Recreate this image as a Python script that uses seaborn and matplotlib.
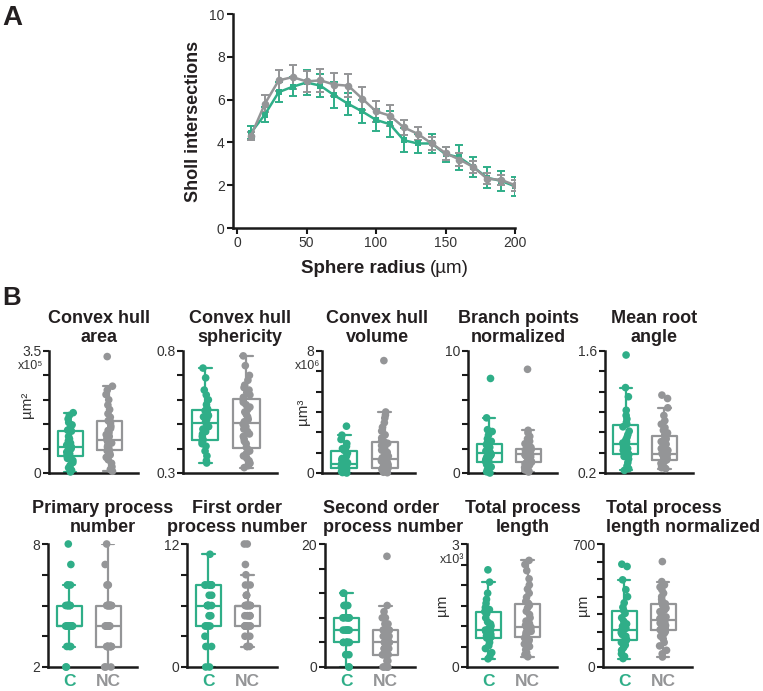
import numpy as np
import pandas as pd
import matplotlib
matplotlib.use("Agg")
import matplotlib.pyplot as plt
import seaborn as sns

# ---------------- data ----------------
GROUPS = ["C", "NC"]
GREEN = "#2fae88"
GRAY = "#949597"

sholl_radius = [10, 20, 30, 40, 50, 60, 70, 80, 90, 100,
                110, 120, 130, 140, 150, 160, 170, 180, 190, 200]
sholl_c_mean = [4.45, 5.3, 6.35, 6.6, 6.8, 6.65, 6.2, 5.8, 5.45, 5.05,
                4.85, 4.1, 3.95, 3.95, 3.45, 3.3, 2.85, 2.35, 2.2, 1.95]
sholl_c_sem = [0.3, 0.35, 0.45, 0.45, 0.6, 0.55, 0.6, 0.5, 0.55, 0.5,
               0.6, 0.55, 0.45, 0.45, 0.35, 0.6, 0.45, 0.5, 0.45, 0.45]
sholl_nc_mean = [4.3, 5.8, 6.9, 7.05, 6.85, 6.9, 6.7, 6.65, 6.05, 5.45,
                 5.25, 4.7, 4.4, 3.95, 3.5, 3.2, 2.85, 2.3, 2.25, 2.0]
sholl_nc_sem = [0.2, 0.4, 0.5, 0.55, 0.5, 0.55, 0.55, 0.55, 0.55, 0.5,
                0.5, 0.35, 0.3, 0.3, 0.3, 0.3, 0.3, 0.25, 0.25, 0.25]

area_c = [0.03, 0.08, 0.15, 0.22, 0.30, 0.36, 0.42, 0.47, 0.50, 0.55, 0.60, 0.65, 0.70, 0.73, 0.75,
          0.76, 0.80, 0.86, 0.92, 0.98, 1.05, 1.20, 1.22, 1.23, 1.30, 1.38, 1.45, 1.55, 1.65, 1.73]
area_nc = [0.05, 0.10, 0.18, 0.28, 0.38, 0.45, 0.52, 0.58, 0.62, 0.64, 0.66, 0.70, 0.74, 0.78, 0.82,
           0.86, 0.89, 0.91, 0.93, 0.94, 0.96, 1.00, 1.05, 1.10, 1.16, 1.22, 1.28, 1.34, 1.42, 1.47,
           1.50, 1.60, 1.70, 1.82, 1.95, 2.10, 2.25, 2.38, 2.49, 3.34]

spher_c = [0.341, 0.35, 0.37, 0.39, 0.41, 0.42, 0.43, 0.435, 0.44, 0.45, 0.46, 0.47, 0.48, 0.49, 0.50,
           0.51, 0.52, 0.53, 0.535, 0.54, 0.55, 0.555, 0.56, 0.565, 0.58, 0.60, 0.62, 0.64, 0.69, 0.73]
spher_nc = [0.322, 0.33, 0.335, 0.34, 0.35, 0.36, 0.37, 0.38, 0.39, 0.395, 0.405, 0.42, 0.43, 0.44,
            0.45, 0.46, 0.47, 0.48, 0.49, 0.50, 0.51, 0.52, 0.53, 0.54, 0.55, 0.56, 0.57, 0.58, 0.59,
            0.60, 0.61, 0.62, 0.63, 0.64, 0.65, 0.66, 0.68, 0.70, 0.74, 0.78]

volume_c = [0.0, 0.03, 0.06, 0.1, 0.15, 0.2, 0.26, 0.31, 0.35, 0.4, 0.45, 0.5, 0.54, 0.58, 0.6,
            0.62, 0.68, 0.75, 0.85, 0.95, 1.1, 1.3, 1.45, 1.5, 1.6, 1.75, 1.93, 2.2, 2.48, 3.07]
volume_nc = [0.02, 0.05, 0.1, 0.15, 0.2, 0.24, 0.28, 0.3, 0.32, 0.33, 0.35, 0.4, 0.48, 0.55, 0.62,
             0.7, 0.78, 0.85, 0.9, 0.93, 0.95, 1.0, 1.1, 1.2, 1.35, 1.5, 1.65, 1.8, 1.95, 2.03,
             2.1, 2.3, 2.5, 2.75, 3.0, 3.3, 3.6, 3.8, 4.0, 7.37]

branch_c = [0.0, 0.1, 0.3, 0.5, 0.7, 0.8, 0.85, 0.9, 0.95, 1.1, 1.2, 1.3, 1.4, 1.5, 1.6,
            1.65, 1.7, 1.8, 1.9, 2.0, 2.1, 2.3, 2.45, 2.6, 2.8, 3.1, 3.4, 3.55, 4.52, 7.75]
branch_nc = [0.08, 0.15, 0.25, 0.35, 0.45, 0.55, 0.65, 0.75, 0.85, 0.9, 0.92, 1.0, 1.05, 1.1, 1.2,
             1.3, 1.4, 1.45, 1.5, 1.55, 1.62, 1.65, 1.7, 1.75, 1.8, 1.85, 1.88, 1.9, 1.93, 1.95,
             1.97, 2.1, 2.25, 2.4, 2.6, 2.8, 3.0, 3.3, 3.5, 8.5]

angle_c = [0.23, 0.25, 0.28, 0.32, 0.36, 0.39, 0.41, 0.42, 0.43, 0.44, 0.46, 0.48, 0.50, 0.52, 0.53,
           0.545, 0.56, 0.58, 0.61, 0.64, 0.68, 0.73, 0.76, 0.78, 0.82, 0.86, 0.92, 1.075, 1.18, 1.554]
angle_nc = [0.25, 0.26, 0.27, 0.28, 0.30, 0.31, 0.32, 0.33, 0.34, 0.345, 0.35, 0.36, 0.37, 0.38,
            0.39, 0.40, 0.405, 0.41, 0.415, 0.42, 0.425, 0.44, 0.46, 0.48, 0.50, 0.53, 0.56, 0.59,
            0.61, 0.625, 0.64, 0.66, 0.69, 0.72, 0.76, 0.80, 0.86, 0.948, 1.055, 1.094]

primary_c = [2, 2, 3, 3, 3, 4, 4, 4, 4, 4, 4, 4, 4, 4, 4, 4, 4, 5, 5, 5, 5, 5, 5, 5, 5, 6, 6, 6, 7, 8]
primary_nc = [2, 2, 2, 3, 3, 3, 3, 3, 3, 3, 3, 3, 3, 4, 4, 4, 4, 4, 4, 4, 4, 4, 4,
              5, 5, 5, 5, 5, 5, 5, 5, 5, 5, 5, 5, 6, 6, 6, 7, 8]

first_c = [0, 0, 2, 2, 3, 4, 4, 4, 4, 4, 5, 5, 5, 6, 6, 6, 6, 6, 6, 7, 7, 8, 8, 8, 8, 8, 8, 8, 8, 11]
first_nc = [2, 2, 2, 3, 3, 4, 4, 4, 4, 4, 4, 4, 4, 5, 5, 5, 5, 5, 5, 6, 6, 6, 6, 6, 6,
            6, 6, 6, 6, 6, 6, 7, 7, 7, 8, 8, 9, 10, 12, 12]

second_c = [0, 0, 2, 2, 2, 4, 4, 4, 4, 4, 4, 4, 4, 6, 6, 6, 6, 6, 6, 8, 8, 8, 8, 8, 8, 10, 10, 10, 12, 12]
second_nc = [0, 0, 0, 0, 0, 1, 1, 2, 2, 2, 2, 2, 2, 3, 3, 3, 3, 4, 4, 4, 4, 4, 4, 4, 4,
             5, 5, 5, 5, 6, 6, 6, 6, 7, 7, 8, 8, 9, 10, 18]

length_c = [0.20, 0.25, 0.35, 0.45, 0.52, 0.6, 0.66, 0.71, 0.73, 0.76, 0.8, 0.84, 0.87, 0.89, 0.9,
            0.91, 0.95, 1.0, 1.05, 1.1, 1.2, 1.3, 1.35, 1.4, 1.45, 1.55, 1.65, 1.8, 2.07, 2.37]
length_nc = [0.25, 0.3, 0.35, 0.42, 0.5, 0.56, 0.62, 0.66, 0.7, 0.71, 0.73, 0.76, 0.8, 0.84, 0.87,
             0.9, 0.93, 0.95, 0.96, 0.97, 0.99, 1.02, 1.06, 1.12, 1.2, 1.28, 1.36, 1.44, 1.5, 1.53,
             1.56, 1.6, 1.7, 1.8, 1.9, 2.0, 2.15, 2.35, 2.5, 2.6]

lennorm_c = [48, 60, 75, 95, 110, 125, 140, 150, 156, 165, 175, 185, 195, 202, 208,
             212, 220, 232, 245, 260, 280, 305, 322, 340, 365, 400, 440, 496, 572, 585]
lennorm_nc = [57, 75, 95, 120, 140, 160, 175, 190, 200, 206, 212, 220, 228, 236, 244, 250, 255, 260,
              264, 266, 268, 275, 285, 295, 305, 315, 325, 335, 350, 360, 365, 372, 385, 400, 420,
              440, 455, 467, 486, 600]

titles = ["Convex hull\narea", "Convex hull\nsphericity", "Convex hull\nvolume",
          "Branch points\nnormalized", "Mean root\nangle",
          "Primary process\nnumber", "First order\nprocess number", "Second order\nprocess number",
          "Total process\nlength", "Total process\nlength normalized"]
y_ranges = [(0, 3.5), (0.3, 0.8), (0, 8), (0, 10), (0.2, 1.6),
            (2, 8), (0, 12), (0, 20), (0, 3), (0, 700)]
y_end_labels = [("0", "3.5"), ("0.3", "0.8"), ("0", "8"), ("0", "10"), ("0.2", "1.6"),
                ("2", "8"), ("0", "12"), ("0", "20"), ("0", "3"), ("0", "700")]
multipliers = ["x10\u2075", None, "x10\u2076", None, None, None, None, None, "x10\u00b3", None]
unit_labels = ["\u00b5m\u00b2", None, "\u00b5m\u00b3", None, None, None, None, None, "\u00b5m", "\u00b5m"]

panel_values = [(area_c, area_nc), (spher_c, spher_nc), (volume_c, volume_nc),
                (branch_c, branch_nc), (angle_c, angle_nc), (primary_c, primary_nc),
                (first_c, first_nc), (second_c, second_nc), (length_c, length_nc),
                (lennorm_c, lennorm_nc)]

# ---------------- layout (styles / positions) ----------------
W, H = 763, 691
n_intervals = [5, 5, 6, 5, 6, 4, 4, 5, 6, 7]
lefts = [49, 183, 322, 468, 605, 48, 187, 325, 467, 603]
rights = [138, 277, 415, 557, 693, 137, 277, 415, 557, 692]
row_top = [351, 544]
row_bot = [473, 667]
title_x = [(99, "center"), (240, "center"), (377, "center"), (518, "center"), (654, "center"),
           (103, "center"), (237, "center"), (323, "left"), (523, "center"), (606, "left")]
title_bottom = [346, 536]
mult_pos = {0: (43, 366), 2: (320, 366), 8: (464, 560)}
unit_pos = {0: (27, 405), 2: (303, 412), 8: (442, 605), 9: (583, 605)}

sns.set_theme(style="ticks")
plt.rcParams["font.family"] = ["Liberation Sans", "DejaVu Sans"]
TXT = "#231f20"
np.random.seed(3)

fig = plt.figure(figsize=(W / 100, H / 100), dpi=100)


def rect(l, t, r, b):
    return [l / W, 1 - b / H, (r - l) / W, (b - t) / H]


def style_axis(ax, lw=1.8):
    for s in ["top", "right"]:
        ax.spines[s].set_visible(False)
    for s in ["left", "bottom"]:
        ax.spines[s].set_linewidth(lw)
        ax.spines[s].set_color("#1a1a1a")


# ---------------- Panel A: Sholl ----------------
axA = fig.add_axes(rect(233, 14, 515, 228))
sholl_df = pd.DataFrame({
    "radius": sholl_radius + sholl_radius,
    "mean": sholl_c_mean + sholl_nc_mean,
    "sem": sholl_c_sem + sholl_nc_sem,
    "group": ["C"] * len(sholl_radius) + ["NC"] * len(sholl_radius),
})
pal = {"C": GREEN, "NC": GRAY}
for g, mk, ms in [("C", "s", 4.8), ("NC", "o", 5.5)]:
    sub = sholl_df[sholl_df.group == g]
    axA.errorbar(sub["radius"], sub["mean"], yerr=sub["sem"], fmt="none",
                 ecolor=pal[g], elinewidth=1.4, capsize=2.6, capthick=1.4, zorder=2)
    sns.lineplot(data=sub, x="radius", y="mean", color=pal[g], marker=mk,
                 markersize=ms, markeredgewidth=0, linewidth=1.8, ax=axA, zorder=3)
axA.set_xlim(-2.9, 200)
axA.set_ylim(0, 10)
axA.set_xticks([0, 50, 100, 150, 200])
axA.set_yticks([0, 2, 4, 6, 8, 10])
axA.set_xlabel("")
axA.set_ylabel("")
style_axis(axA)
axA.tick_params(axis="both", length=4, width=1.5, color="#1a1a1a",
                labelsize=10, labelcolor="#333333", pad=2)
fig.text(193 / W, 1 - 121 / H, "Sholl intersections", rotation=90, ha="center",
         va="center", fontsize=13, fontweight="bold", color=TXT)
fig.text(426 / W, 1 - 273 / H, "Sphere radius", ha="right", va="baseline",
         fontsize=13.5, fontweight="bold", color=TXT)
fig.text(430 / W, 1 - 273 / H, "(\u00b5m)", ha="left", va="baseline",
         fontsize=13.5, color=TXT)
fig.text(2 / W, 1 - 25 / H, "A", ha="left", va="baseline", fontsize=20,
         fontweight="bold", color=TXT)
fig.text(2 / W, 1 - 305 / H, "B", ha="left", va="baseline", fontsize=18.5,
         fontweight="bold", color=TXT)

# ---------------- Panel B: box plots ----------------
for i in range(10):
    row = 0 if i < 5 else 1
    ax = fig.add_axes(rect(lefts[i], row_top[row], rights[i], row_bot[row]))
    cvals, ncvals = panel_values[i]
    d = pd.DataFrame({"group": ["C"] * len(cvals) + ["NC"] * len(ncvals),
                      "value": list(cvals) + list(ncvals)})
    sns.boxplot(data=d, x="group", y="value", hue="group", order=GROUPS,
                hue_order=GROUPS, palette=pal, fill=False, width=0.64,
                linewidth=1.6, showfliers=False, whis=1.5, legend=False, ax=ax)
    sns.stripplot(data=d, x="group", y="value", hue="group", order=GROUPS,
                  hue_order=GROUPS, palette=pal, size=5.5, jitter=0.09,
                  linewidth=0, legend=False, ax=ax, zorder=4, clip_on=False)
    lo, hi = y_ranges[i]
    ax.set_ylim(lo, hi)
    ax.set_xlim(-0.54, 1.74)
    n = n_intervals[i]
    ax.set_yticks(np.linspace(lo, hi, n + 1))
    ax.set_yticklabels([y_end_labels[i][0]] + [""] * (n - 1) + [y_end_labels[i][1]])
    ax.set_xlabel("")
    ax.set_ylabel("")
    style_axis(ax)
    ax.tick_params(axis="y", length=4, width=1.5, color="#1a1a1a",
                   labelsize=10, labelcolor="#333333", pad=1.5)
    if row == 0:
        ax.set_xticks([])
    else:
        ax.set_xticks([0, 1])
        ax.set_xticklabels(GROUPS)
        ax.tick_params(axis="x", length=0, pad=5, labelsize=12.5)
        for lab, col in zip(ax.get_xticklabels(), [GREEN, GRAY]):
            lab.set_color(col)
            lab.set_fontweight("bold")
    tx, ha = title_x[i]
    fig.text(tx / W, 1 - title_bottom[row] / H, titles[i], ha=ha, va="bottom",
             fontsize=13, fontweight="bold", color=TXT, linespacing=1.12)
    if multipliers[i]:
        mx, my = mult_pos[i]
        fig.text(mx / W, 1 - my / H, multipliers[i], ha="right", va="center",
                 fontsize=9, color="#333333")
    if unit_labels[i]:
        ux, uy = unit_pos[i]
        fig.text(ux / W, 1 - uy / H, unit_labels[i], rotation=90, ha="center",
                 va="center", fontsize=11, color="#333333")

fig.savefig("out.png", dpi=100)
